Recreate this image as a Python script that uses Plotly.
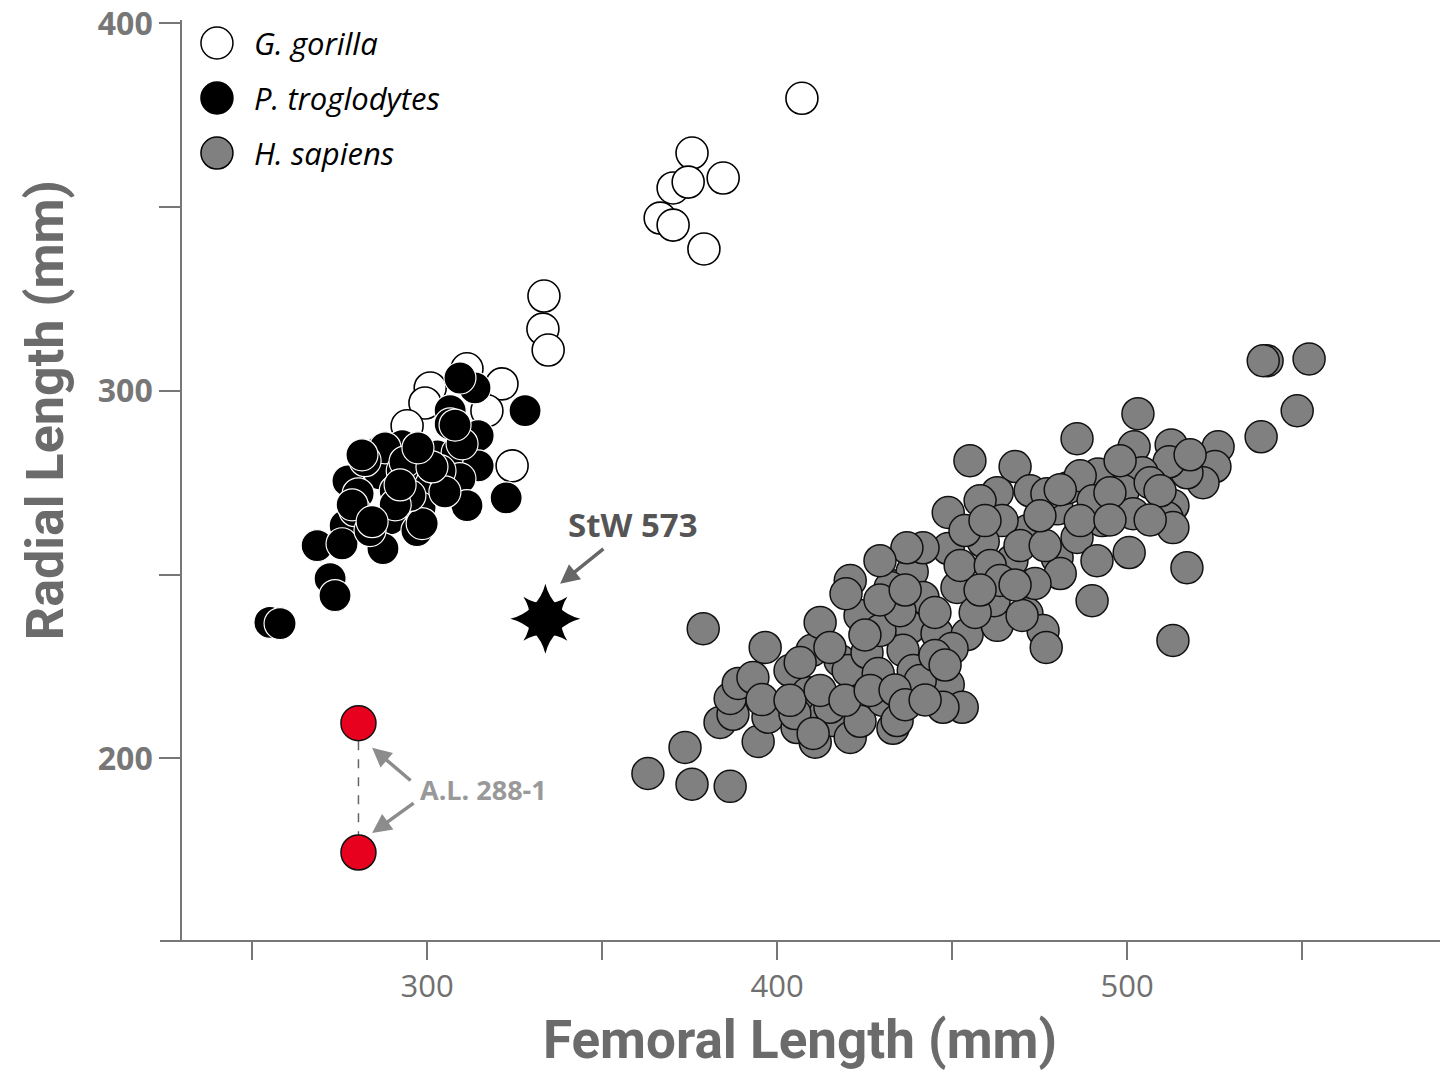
import plotly.graph_objects as go

# ---------------- data ----------------
gorilla_femur = [407.1, 375.7, 384.6, 370.3, 374.6, 366.6, 370.3, 379.1, 333.4, 333.1, 334.6,
                 300.9, 299.4, 321.4, 317.1, 311.4, 324.3, 294.3]
gorilla_radius = [379.6, 364.7, 357.9, 355.2, 356.8, 347.0, 345.1, 338.6, 325.8, 316.8, 311.1,
                  300.8, 296.7, 301.9, 294.6, 306.0, 279.6, 290.5]

chimp_femur = [328.0, 313.7, 309.4, 306.6, 306.6, 314.6, 302.9, 308.6, 314.6, 309.4, 300.3, 292.9,
               286.6, 283.7, 286.6, 277.4, 280.3, 289.4, 297.1, 298.0, 276.6, 268.6, 275.7, 287.4,
               311.4, 322.6, 288.0, 292.9, 310.0, 298.6, 272.3, 273.7, 255.1, 258.0, 282.3, 290.9,
               303.7, 295.1, 279.4, 283.7,
               290.9, 293.7, 305.1, 301.4, 278.6, 284.3, 297.4, 281.4, 308.0, 292.3]
chimp_radius = [294.6, 300.8, 303.5, 294.6, 291.0, 287.8, 282.3, 283.2, 279.6, 276.1, 274.7, 285.1,
                283.7, 277.7, 277.4, 275.5, 272.0, 265.2, 262.0, 268.2, 263.3, 257.9, 258.4, 257.1,
                268.8, 270.9, 284.5, 278.3, 285.6, 263.9, 248.9, 244.3, 237.0, 236.7, 281.0, 272.8,
                278.3, 271.5, 267.4, 262.0,
                269.0, 280.7, 272.5, 279.3, 269.0, 264.4, 284.5, 282.6, 290.7, 274.4]

human_femur = [363.1, 373.7, 375.7, 386.6, 378.9, 383.7, 387.4, 386.6, 388.9, 393.1, 396.6, 394.6,
               397.4, 395.7, 403.7, 405.7, 408.9, 410.0, 410.9, 413.7, 416.0, 420.9, 423.7, 418.0,
               420.3, 425.7, 428.9, 430.3, 433.1, 423.7, 420.9, 419.7, 432.9, 412.3, 438.6, 441.7,
               438.0, 445.7, 454.3, 462.9, 450.0, 448.9, 452.9, 447.4, 436.0, 438.9, 434.3, 415.1,
               415.1, 448.9, 455.1, 468.0, 462.9, 458.0, 472.3, 480.0, 482.9, 471.7, 464.3, 458.9,
               467.1, 480.0, 480.9, 448.9, 441.7, 437.1, 432.3, 451.4, 462.0, 471.4, 476.0, 476.9,
               503.1, 485.7, 502.0, 512.6, 526.0, 525.1, 521.7, 517.1, 512.0, 504.3, 491.7, 486.6,
               498.9, 492.9, 490.3, 501.7, 513.1, 511.4, 513.1, 500.6, 517.1, 490.0, 513.1, 477.1,
               485.7, 491.4, 473.7, 470.0, 540.0, 552.0, 548.6, 538.3, 538.9, 405.1, 410.3,
               429.4, 435.1, 445.1, 456.6, 452.3, 460.9, 463.7, 469.4, 476.6, 486.6, 495.1, 506.6,
               403.7, 412.3, 419.4, 426.6, 406.6, 440.9, 445.1, 429.4, 453.7, 475.1, 498.0, 509.4,
               459.4,
               429.4, 436.6, 425.1, 433.7, 436.6, 442.3, 448.0, 458.0, 468.0, 480.9, 495.1, 506.6,
               518.0]
human_radius = [195.9, 203.0, 193.0, 192.4, 235.3, 209.8, 212.0, 216.3, 220.4, 222.0, 230.2, 204.6,
                211.2, 216.0, 223.9, 208.4, 217.9, 229.4, 204.4, 212.2, 210.3, 205.7, 210.1, 226.6,
                223.9, 228.8, 223.1, 215.8, 208.2, 238.9, 248.4, 244.8, 247.0, 237.0, 250.8, 243.8,
                235.6, 234.0, 233.7, 236.2, 229.9, 220.1, 213.9, 213.9, 229.4, 223.9, 210.3, 213.9,
                230.2, 266.9, 281.0, 279.4, 272.3, 270.1, 272.8, 267.9, 273.6, 262.0, 264.7, 259.0,
                253.8, 254.6, 250.3, 257.1, 257.3, 257.3, 246.5, 246.5, 242.9, 239.4, 234.8, 230.2,
                293.8, 287.0, 284.8, 285.3, 284.8, 279.4, 275.0, 277.7, 280.7, 277.7, 277.4, 276.9,
                272.8, 264.7, 270.1, 266.6, 268.8, 265.5, 262.8, 256.0, 251.9, 242.9, 232.1, 272.0,
                260.1, 253.8, 247.6, 238.9, 308.2, 308.7, 294.6, 287.5, 308.2, 212.2, 206.8,
                234.8, 240.2, 239.7, 239.7, 252.5, 252.5, 248.4, 257.9, 257.9, 264.7, 272.3, 275.0,
                215.8, 218.5, 215.8, 218.5, 226.1, 221.2, 228.0, 253.8, 262.0, 266.0, 281.0, 272.8,
                264.7,
                243.1, 245.8, 233.6, 218.6, 214.6, 215.9, 225.4, 245.8, 247.2, 273.1, 264.9, 264.9,
                282.6]

stw573_femur = [333.8]
stw573_radius = [238.0]

al288_femur = [280.4, 280.4]
al288_radius = [209.6, 174.4]

x_tickvals = [250, 300, 350, 400, 450, 500, 550]
x_ticktext = ["", "300", "", "400", "", "500", ""]
y_tickvals = [200, 250, 300, 350, 400]
y_ticktext = ["200", "", "300", "", "400"]

legend_names = ["G. gorilla", "P. troglodytes", "H. sapiens"]
legend_fills = ["white", "black", "#808080"]

# ---------------- figure ----------------
AX = "#777777"
MS = 32
TITLE_FONT = "Roboto, Lato, Liberation Sans, sans-serif"

fig = go.Figure()

fig.add_trace(go.Scatter(
    x=human_femur, y=human_radius, mode="markers", name="H. sapiens",
    marker=dict(size=MS, color="#808080", line=dict(color="#111111", width=1.5)),
))
fig.add_trace(go.Scatter(
    x=gorilla_femur, y=gorilla_radius, mode="markers", name="G. gorilla",
    marker=dict(size=MS, color="white", line=dict(color="black", width=1.6)),
))
fig.add_trace(go.Scatter(
    x=chimp_femur, y=chimp_radius, mode="markers", name="P. troglodytes",
    marker=dict(size=MS, color="black", line=dict(color="white", width=1.2)),
))
fig.add_trace(go.Scatter(
    x=al288_femur, y=al288_radius, mode="lines+markers", name="A.L. 288-1",
    line=dict(color="#666666", width=1.5, dash="dash"),
    marker=dict(size=35, color="#e8001f", line=dict(color="#111111", width=1.5)),
))
fig.add_trace(go.Scatter(
    x=stw573_femur, y=stw573_radius, mode="markers", name="StW 573",
    marker=dict(size=50, symbol="star-diamond", color="black", line=dict(width=0)),
))
fig.add_trace(go.Scatter(
    x=stw573_femur, y=stw573_radius, mode="markers", name="StW 573", showlegend=False,
    marker=dict(size=40, symbol="star-square", color="black", line=dict(width=0)),
))

# legend drawn as shapes + text (large symbols)
leg_y = [0.975, 0.9152, 0.8554]
for name, fill, yy in zip(legend_names, legend_fills, leg_y):
    fig.add_shape(type="circle", xref="paper", yref="paper",
                  xsizemode="pixel", ysizemode="pixel",
                  xanchor=0.0445, yanchor=yy, x0=-16, x1=16, y0=-16, y1=16,
                  fillcolor=fill, line=dict(color="black", width=1.5))
    fig.add_annotation(xref="paper", yref="paper", x=0.0715, y=yy, xanchor="left",
                       yanchor="middle", text="<i>%s</i>" % name, showarrow=False,
                       font=dict(family="Open Sans", size=31, color="black"))

# StW 573 label
fig.add_annotation(x=338.0, y=247.5, ax=73, ay=-59, text="<b>StW 573</b>",
                   showarrow=True, arrowhead=2, arrowsize=1.1, arrowwidth=3.5,
                   arrowcolor="#666666",
                   font=dict(family="Open Sans", size=33, color="#555555"))
# A.L. 288-1 label
fig.add_annotation(x=284.3, y=202.9, ax=40, ay=34, text="", showarrow=True,
                   arrowhead=2, arrowsize=1.1, arrowwidth=3.5, arrowcolor="#8c8c8c")
fig.add_annotation(x=284.3, y=179.7, ax=43, ay=-31, text="", showarrow=True,
                   arrowhead=2, arrowsize=1.1, arrowwidth=3.5, arrowcolor="#8c8c8c")
fig.add_annotation(x=300 + (483 - 427) / 3.5, y=300 - (790 - 391) / 3.675,
                   text="<b>A.L. 288-1</b>", showarrow=False,
                   font=dict(family="Open Sans", size=27, color="#999999"))

# y-axis title (placed as in the reference, above the axis centre)
fig.add_annotation(xref="paper", yref="paper", x=-0.0898, y=0.576,
                   xanchor="center", yanchor="middle", textangle=-90,
                   text="<b>Radial Length (mm)</b>", showarrow=False,
                   font=dict(family=TITLE_FONT, size=52, color="#6b6b6b"))

fig.update_layout(
    width=1441, height=1083,
    margin=dict(l=160, r=1, t=20, b=143),
    paper_bgcolor="white", plot_bgcolor="white",
    showlegend=False,
    xaxis=dict(
        range=[223.7, 589.4], tickvals=x_tickvals, ticktext=x_ticktext,
        ticks="outside", ticklen=18, tickwidth=1.5, tickcolor=AX,
        showline=True, linecolor=AX, linewidth=1.8,
        showgrid=False, zeroline=False, anchor="y",
        tickfont=dict(family="Open Sans", size=31, color="#707070"),
        title=dict(text="<b>Femoral Length (mm)</b>", standoff=16,
                   font=dict(family=TITLE_FONT, size=53, color="#6b6b6b")),
    ),
    yaxis=dict(
        range=[150.6, 400.9], tickvals=y_tickvals, ticktext=y_ticktext,
        ticks="outside", ticklen=21, tickwidth=1.5, tickcolor=AX,
        showline=True, linecolor=AX, linewidth=1.8,
        showgrid=False, zeroline=False, anchor="free", position=0.0164,
        tickfont=dict(family="Open Sans", size=32, color="#777777", weight="bold"),
    ),
)

fig.write_html("out.html", config={"displayModeBar": False},
               post_script="document.body.style.margin='0px';")
